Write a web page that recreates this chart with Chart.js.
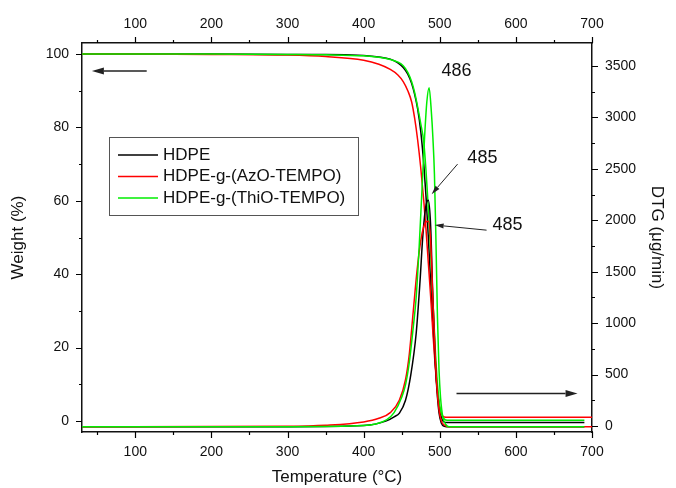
<!DOCTYPE html>
<html>
<head>
<meta charset="utf-8">
<title>TGA / DTG</title>
<script src="https://cdn.jsdelivr.net/npm/chart.js@4.4.0/dist/chart.umd.min.js"></script>
<style>
  html, body { margin: 0; padding: 0; background: #fff; }
  canvas { display: block; }
</style>
</head>
<body>
<canvas id="tgaChart" width="676" height="488"></canvas>
<script>
// series names and line colours
const seriesNames = ["HDPE", "HDPE-g-(AzO-TEMPO)", "HDPE-g-(ThiO-TEMPO)"];
const seriesColors = ["#000000", "#ff0000", "#00ee00"];

// weight (%) vs temperature (°C)
const tgaTemps = [30, 100, 200, 300, 350, 400, 420, 435, 445, 452, 458, 463, 467, 471, 475, 479, 482, 485, 488, 491, 494, 497, 500, 503, 506, 510, 520, 600, 690];
const azoTgaTemps = [30, 100, 200, 300, 350, 400, 420, 435, 445, 452, 458, 463, 467, 471, 475, 479, 482, 485, 488, 491, 494, 497, 500, 503, 506, 510, 520, 600, 700];
const hdpeWeight = [100, 100, 100, 99.9, 99.9, 99.6, 99.2, 98.6, 97.6, 96.3, 94.5, 92, 89, 85, 79, 70, 61, 50, 38, 26, 16, 8, 3, 0.5, -0.3, -0.4, -0.4, -0.4, -0.4];
const azoWeight = [100, 100, 99.9, 99.7, 99.3, 98.3, 97.2, 95.8, 94.3, 92.5, 90, 87, 82.5, 76.5, 69, 60, 52, 43, 34, 24, 15, 8, 3.5, 1.6, 1.1, 1.0, 1.0, 1.0, 1.0];
const thioWeight = [100, 100, 100, 99.9, 99.8, 99.5, 99.1, 98.5, 97.8, 96.8, 95, 92.5, 89.5, 85.5, 81, 76, 68, 58, 46, 33, 20, 10, 4, 1.5, 0.5, 0.2, 0.2, 0.2, 0.2];

// DTG (µg/min) vs temperature (°C)
const hdpeDtgTemps = [30, 300, 400, 430, 440, 447, 455, 462, 469, 474, 478, 482, 485, 488, 491, 494, 496, 499, 502, 506, 512, 600, 690];
const hdpeDtg = [-8, -6, 5, 50, 90, 126, 250, 500, 900, 1400, 1875, 2150, 2196, 1950, 1224, 650, 380, 130, 30, -3, -8, -8, -8];
const azoDtgTemps = [30, 300, 350, 400, 420, 435, 447, 455, 460, 465, 470, 475, 479, 482, 485, 488, 491, 494, 496, 499, 502, 506, 512, 600, 700];
const azoDtg = [-8, -2, 8, 40, 75, 130, 253, 450, 700, 1100, 1500, 1800, 1940, 1985, 1990, 1800, 1224, 700, 400, 160, 50, 10, -8, -8, -8];
const thioDtgTemps = [30, 300, 400, 430, 440, 450, 455, 460, 465, 469, 473, 476, 480, 483, 486, 489, 491, 493, 495, 497, 499, 501, 504, 508, 512, 600, 690];
const thioDtg = [-8, -6, 5, 60, 130, 280, 400, 620, 950, 1250, 1750, 2200, 2800, 3150, 3290, 3050, 2800, 2450, 1800, 1050, 550, 280, 90, 15, -8, -8, -8];

// axis ticks
const tempTicks = [100, 200, 300, 400, 500, 600, 700];
const tempMinor = [50, 150, 250, 350, 450, 550, 650];
const weightTicks = [0, 20, 40, 60, 80, 100];
const weightMinor = [10, 30, 50, 70, 90];
const dtgTicks = [0, 500, 1000, 1500, 2000, 2500, 3000, 3500];
const dtgMinor = [250, 750, 1250, 1750, 2250, 2750, 3250];

// peak labels and arrows, in (temperature, weight) units
const peakNotes = [
  { text: "486", t: 522, w: 95.4 },
  { text: "485", t: 556, w: 71.6 },
  { text: "485", t: 589, w: 53.4 }
];
const arrows = [
  { from: [523.4, 70.0], to: [489.3, 61.8], head: 9, half: 2.5, lw: 1 },
  { from: [561.5, 52.0], to: [493.3, 53.4], head: 9, half: 2.5, lw: 1 },
  { from: [115, 95.4], to: [43, 95.4], head: 12, half: 3.5, lw: 1.5 },
  { from: [522, 7.5], to: [681, 7.5], head: 12, half: 3.5, lw: 1.5 }
];

const FONT = "'Liberation Sans', Arial, sans-serif";

function toPoints(xs, ys) {
  return xs.map((x, i) => ({ x: x, y: ys[i] }));
}

function curve(label, color, xs, ys, axis, order) {
  return {
    label: label,
    data: toPoints(xs, ys),
    borderColor: color,
    backgroundColor: color,
    borderWidth: 1.5,
    pointRadius: 0,
    cubicInterpolationMode: "monotone",
    xAxisID: "x",
    yAxisID: axis,
    order: order
  };
}

// short outward tick marks, major and minor
const tickMarks = {
  id: "tickMarks",
  afterDraw(chart) {
    const ctx = chart.ctx;
    const a = chart.chartArea;
    const s = chart.scales;
    ctx.save();
    ctx.strokeStyle = "#000";
    ctx.lineWidth = 1.2;
    ctx.beginPath();
    const hx = (vals, len) => vals.forEach(v => {
      const px = Math.round(s.x.getPixelForValue(v)) + 0.5;
      ctx.moveTo(px, a.bottom); ctx.lineTo(px, a.bottom + len);
      ctx.moveTo(px, a.top); ctx.lineTo(px, a.top - len);
    });
    hx(tempTicks, 6);
    hx(tempMinor, 3);
    const vl = (vals, len) => vals.forEach(v => {
      const py = Math.round(s.y.getPixelForValue(v)) + 0.5;
      ctx.moveTo(a.left, py); ctx.lineTo(a.left - len, py);
    });
    vl(weightTicks, 6);
    vl(weightMinor, 3);
    const vr = (vals, len) => vals.forEach(v => {
      const py = Math.round(s.y2.getPixelForValue(v)) + 0.5;
      ctx.moveTo(a.right, py); ctx.lineTo(a.right + len, py);
    });
    vr(dtgTicks, 6);
    vr(dtgMinor, 3);
    ctx.stroke();
    ctx.restore();
  }
};

function drawArrow(ctx, x1, y1, x2, y2, head, half, lw) {
  const ang = Math.atan2(y2 - y1, x2 - x1);
  const bx = x2 - head * Math.cos(ang);
  const by = y2 - head * Math.sin(ang);
  ctx.lineWidth = lw;
  ctx.beginPath();
  ctx.moveTo(x1, y1);
  ctx.lineTo(bx, by);
  ctx.stroke();
  ctx.beginPath();
  ctx.moveTo(x2, y2);
  ctx.lineTo(bx + half * Math.sin(ang), by - half * Math.cos(ang));
  ctx.lineTo(bx - half * Math.sin(ang), by + half * Math.cos(ang));
  ctx.closePath();
  ctx.fill();
}

// peak temperatures and the direction arrows
const peakAnnotations = {
  id: "peakAnnotations",
  afterDatasetsDraw(chart) {
    const ctx = chart.ctx;
    const sx = chart.scales.x, sy = chart.scales.y;
    ctx.save();
    ctx.fillStyle = "#111";
    ctx.font = "18px " + FONT;
    ctx.textAlign = "center";
    ctx.textBaseline = "middle";
    peakNotes.forEach(n => {
      ctx.fillText(n.text, sx.getPixelForValue(n.t), sy.getPixelForValue(n.w));
    });
    ctx.strokeStyle = "#222";
    ctx.fillStyle = "#222";
    arrows.forEach(ar => {
      drawArrow(ctx,
        sx.getPixelForValue(ar.from[0]), sy.getPixelForValue(ar.from[1]),
        sx.getPixelForValue(ar.to[0]), sy.getPixelForValue(ar.to[1]),
        ar.head, ar.half, ar.lw);
    });
    ctx.restore();
  }
};

// boxed legend inside the plot
const legendBox = {
  id: "legendBox",
  afterDraw(chart) {
    const ctx = chart.ctx;
    const a = chart.chartArea;
    const x0 = a.left + 27, y0 = a.top + 94;
    ctx.save();
    ctx.strokeStyle = "#555";
    ctx.lineWidth = 1;
    ctx.strokeRect(x0 + 0.5, y0 + 0.5, 249, 78);
    ctx.font = "17px " + FONT;
    ctx.textBaseline = "middle";
    ctx.textAlign = "left";
    seriesNames.forEach((name, i) => {
      const y = y0 + 18 + i * 21.5;
      ctx.strokeStyle = seriesColors[i];
      ctx.lineWidth = 1.5;
      ctx.beginPath();
      ctx.moveTo(x0 + 9, y);
      ctx.lineTo(x0 + 49, y);
      ctx.stroke();
      ctx.fillStyle = "#111";
      ctx.fillText(name, x0 + 54, y);
    });
    ctx.restore();
  }
};

const tickFont = { family: FONT, size: 14 };
const titleFont = { family: FONT, size: 17 };
const axisBorder = { display: true, color: "#111", width: 1.5 };
const noGrid = { display: false, drawTicks: false };

new Chart(document.getElementById("tgaChart"), {
  type: "line",
  data: {
    datasets: [
      curve(seriesNames[0], seriesColors[0], tgaTemps, hdpeWeight, "y", 6),
      curve(seriesNames[1], seriesColors[1], azoTgaTemps, azoWeight, "y", 5),
      curve(seriesNames[2], seriesColors[2], tgaTemps, thioWeight, "y", 4),
      curve(seriesNames[0], seriesColors[0], hdpeDtgTemps, hdpeDtg, "y2", 3),
      curve(seriesNames[1], seriesColors[1], azoDtgTemps, azoDtg, "y2", 2),
      curve(seriesNames[2], seriesColors[2], thioDtgTemps, thioDtg, "y2", 1)
    ]
  },
  options: {
    responsive: false,
    animation: false,
    devicePixelRatio: 1,
    events: [],
    layout: { padding: 0 },
    plugins: {
      legend: { display: false },
      tooltip: { enabled: false }
    },
    scales: {
      x: {
        type: "linear", position: "bottom", min: 30, max: 700,
        grid: noGrid,
        border: axisBorder,
        ticks: { font: tickFont, color: "#111", padding: 12, maxRotation: 0, callback: v => String(v) },
        afterBuildTicks: s => { s.ticks = tempTicks.map(v => ({ value: v })); },
        afterFit: s => { s.height = 56; },
        title: { display: true, text: "Temperature (°C)", font: titleFont, color: "#111", padding: { top: 0, bottom: 0 } }
      },
      x2: {
        type: "linear", position: "top", min: 30, max: 700,
        grid: noGrid,
        border: axisBorder,
        ticks: { font: tickFont, color: "#111", padding: 10, maxRotation: 0, callback: v => String(v) },
        afterBuildTicks: s => { s.ticks = tempTicks.map(v => ({ value: v })); },
        afterFit: s => { s.height = 43; }
      },
      y: {
        type: "linear", position: "left", min: -3, max: 103,
        grid: noGrid,
        border: axisBorder,
        ticks: { font: tickFont, color: "#111", padding: 13, callback: v => String(v) },
        afterBuildTicks: s => { s.ticks = weightTicks.map(v => ({ value: v })); },
        afterFit: s => { s.width = 82; },
        title: { display: true, text: "Weight (%)", font: titleFont, color: "#111", padding: { top: 8, bottom: 0 } }
      },
      y2: {
        type: "linear", position: "right", min: -58, max: 3724,
        grid: noGrid,
        border: axisBorder,
        ticks: { font: tickFont, color: "#111", padding: 13, callback: v => String(v) },
        afterBuildTicks: s => { s.ticks = dtgTicks.map(v => ({ value: v })); },
        afterFit: s => { s.width = 84; },
        title: { display: true, text: "DTG (μg/min)", font: titleFont, color: "#111", padding: { top: 9, bottom: 0 } }
      }
    }
  },
  plugins: [tickMarks, peakAnnotations, legendBox]
});
</script>
</body>
</html>
